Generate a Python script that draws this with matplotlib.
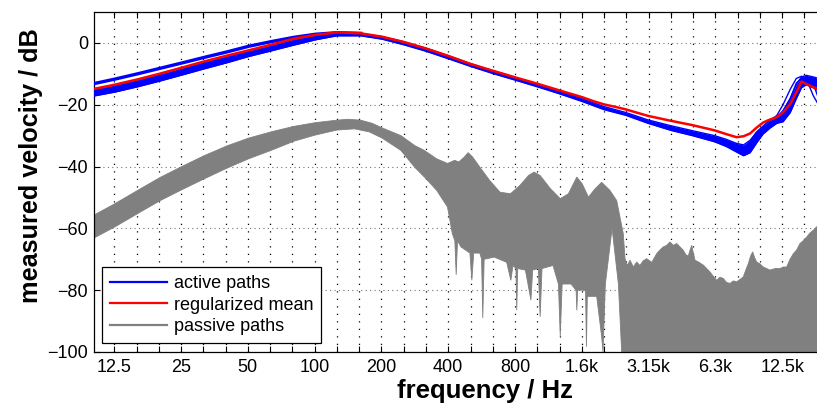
import numpy as np
import matplotlib
matplotlib.use("Agg")
import matplotlib.pyplot as plt
from matplotlib.lines import Line2D
from matplotlib.ticker import FixedLocator, NullFormatter

plt.rcParams['font.family'] = ['Liberation Sans', 'DejaVu Sans']

# ---------------- data ----------------
# regularized mean (red)
red_f = [10, 12.5, 16, 20, 25, 31.5, 40, 50, 63, 80, 100, 125, 160, 200, 250, 315, 400, 500,
         630, 800, 1000, 1250, 1600, 1800, 2000, 2250, 2500, 3150, 4000, 5000, 6300, 7100,
         7900, 8500, 9100, 9700, 10400, 11000, 12000, 12800, 13800, 14700, 15500, 16300,
         17500, 18500, 20000]
red_db = [-14.9, -13.5, -11.7, -9.9, -8.0, -6.0, -4.1, -2.4, -0.6, 1.4, 2.6, 3.4, 3.1, 2.0,
          0.3, -1.8, -4.3, -6.8, -9.0, -11.2, -13.2, -15.3, -17.6, -18.9, -19.9, -20.7,
          -21.5, -23.6, -25.2, -26.6, -28.3, -29.5, -30.5, -30.2, -29.3, -27.5, -25.8,
          -25.0, -24.0, -22.5, -19.8, -16.0, -12.5, -13.3, -14.3, -15.0, -15.8]

# active paths (blue): core band
blue_f = [10, 12.5, 16, 20, 25, 31.5, 40, 50, 63, 80, 100, 125, 160, 200, 250, 315, 400, 500,
          630, 800, 1000, 1250, 1600, 2000, 2500, 3150, 4000, 5000, 6300, 7100, 7900, 8500,
          9100, 9700, 10400, 11200, 12000, 12800, 13800, 14700, 15500, 16300, 17500, 18500,
          20000]
blue_hi = [-15.0, -13.6, -11.8, -10.0, -8.1, -6.1, -4.2, -2.5, -0.7, 1.2, 2.5, 3.3, 3.1, 2.0,
           0.4, -1.7, -4.2, -6.7, -9.0, -11.2, -13.3, -15.5, -18.1, -20.6, -22.5, -24.9,
           -26.8, -28.4, -30.0, -31.2, -32.5, -33.0, -31.5, -29.0, -27.0, -25.0, -24.0,
           -22.0, -18.0, -13.5, -11.0, -10.5, -11.0, -11.5, -12.0]
blue_lo = [-17.2, -15.9, -14.1, -12.3, -10.4, -8.4, -6.4, -4.4, -2.6, -0.7, 1.0, 2.3, 2.3,
           1.2, -0.6, -2.7, -5.2, -7.6, -9.9, -12.1, -14.2, -16.4, -19.0, -21.6, -23.4,
           -26.0, -28.3, -30.0, -32.0, -33.5, -35.3, -36.5, -35.5, -32.5, -29.5, -27.5,
           -26.0, -25.5, -22.5, -18.0, -14.5, -13.5, -14.5, -15.5, -16.0]
# separate upper active path at low frequencies
blue_top_f = [10, 12.5, 16, 20, 25, 31.5, 40, 50, 63, 80, 100, 125, 160]
blue_top_db = [-13.2, -11.7, -9.9, -8.2, -6.5, -4.7, -2.9, -1.1, 0.4, 1.8, 2.8, 3.3, 3.1]
# individual diverging active paths at high frequencies
blue_x_f = [7900, 8500, 9100, 9700, 10400, 11200, 12000, 12800, 13800, 14700, 15500, 16300,
            17500, 18500, 20000]
blue_x1 = [-33.0, -34.0, -32.0, -29.0, -27.0, -25.0, -23.5, -20.0, -15.0, -11.5, -10.8, -11.5,
           -17.0, -20.0, -22.0]
blue_x2 = [-34.5, -36.0, -33.5, -30.0, -28.0, -26.5, -25.0, -23.0, -19.0, -15.0, -12.5, -12.0,
           -13.0, -18.0, -24.0]
blue_x3 = [-34.0, -35.0, -33.0, -29.5, -27.5, -26.0, -24.5, -22.0, -18.0, -13.0, -11.5, -11.0,
           -12.0, -13.0, -14.0]

# passive paths (gray): upper envelope
gray_hi_f = [10, 12.5, 16, 20, 25, 31.5, 40, 50, 63, 80, 100, 125, 140, 160, 180, 200, 243,
             280, 310, 352, 394, 424, 443, 468, 488, 512, 551, 610, 679, 757, 835, 913, 967,
             1030, 1147, 1269, 1381, 1507, 1594, 1700, 1821, 1950, 2124, 2279, 2440,
             2485, 2550, 2617, 2710, 2805, 2900, 3000, 3112, 3280, 3451, 3570, 3696, 3830,
             3963, 4100, 4248, 4400, 4549, 4670, 4790, 4880, 4963, 5050, 5138, 5360, 5599,
             5800, 6000, 6210, 6431, 6650, 6888, 7130, 7387, 7650, 7917, 8200, 8480, 8700,
             8933, 9140, 9345, 9540, 9740, 10080, 10430, 10800, 11180, 11800, 12410, 12850,
             13300, 13770, 14250, 14750, 15270, 15800, 16370, 16950, 17540, 18150, 20000]
gray_hi_db = [-55.8, -52.0, -47.5, -43.5, -40.0, -36.5, -33.3, -30.8, -28.8, -27.0, -25.8,
              -25.0, -24.7, -25.0, -26.0, -27.5, -30.0, -33.2, -34.8, -37.5, -39.0, -38.0,
              -38.5, -37.0, -35.5, -37.0, -40.2, -44.5, -48.3, -48.8, -46.1, -42.9, -41.8,
              -42.9, -47.2, -50.4, -48.8, -43.4, -45.6, -49.9, -47.2, -45.1, -47.7, -51.0,
              -61.7,
              -69.8, -72.0, -70.3, -72.5, -70.9, -72.0, -70.5, -69.8, -71.0, -68.2, -67.0,
              -66.0, -65.5, -64.4, -65.5, -64.9, -66.0, -67.1, -68.5, -69.0, -67.0, -65.5,
              -68.0, -70.3, -71.0, -71.9, -73.0, -74.1, -75.5, -76.8, -75.8, -76.2, -77.5,
              -77.8, -77.0, -77.3, -76.5, -75.7, -73.5, -71.4, -69.0, -67.6, -69.5, -70.9,
              -71.5, -72.5, -73.0, -73.5, -73.0, -73.0, -72.5, -72.5, -70.0, -68.2, -67.0,
              -64.9, -64.0, -62.8, -61.5, -60.6, -59.5, -58.0]
# passive paths (gray): lower envelope
gray_lo_f = [10, 12.5, 16, 20, 25, 31.5, 40, 50, 63, 80, 100, 125, 150, 175, 200, 243, 280,
             310, 352, 394, 414, 425, 431, 437, 453, 497, 507, 517, 551, 561, 568, 576, 640,
             728, 760, 777, 801, 808, 816, 884, 936, 953, 1010, 1030, 1050, 1177, 1245,
             1269, 1294, 1418, 1496, 1507, 1520, 1650, 1665, 1680, 1852, 1950, 1978, 2026,
             2173, 2320, 2400, 2485, 20000]
gray_lo_db = [-63.2, -59.5, -55.0, -51.0, -47.5, -44.0, -40.5, -37.5, -34.8, -31.8, -29.8,
              -28.2, -27.8, -28.8, -30.8, -34.8, -40.2, -43.4, -47.7, -53.1, -61.7, -64.0,
              -75.0, -64.0, -66.0, -68.0, -76.8, -68.0, -68.0, -70.0, -89.0, -70.0, -69.3,
              -71.0, -76.8, -72.0, -73.0, -86.5, -73.0, -73.5, -83.2, -73.5, -73.0, -88.6,
              -73.0, -72.0, -78.0, -95.0, -78.0, -78.0, -80.0, -86.5, -80.0, -80.0, -98.3,
              -82.0, -82.0, -95.0, -100.0, -78.0, -60.0, -78.0, -100.0, -115.0, -115.0]

# axis ticks: third-octave bands, labels every octave
band_exp = list(range(-20, 14))
label_exp = [-19, -16, -13, -10, -7, -4, -1, 2, 5, 8, 11]
tick_labels = ['12.5', '25', '50', '100', '200', '400', '800', '1.6k', '3.15k', '6.3k', '12.5k']
y_ticks = [-100, -80, -60, -40, -20, 0]

# ---------------- figure ----------------
fig = plt.figure(figsize=(8.17, 4.07), dpi=100)
ax = fig.add_axes([93.5 / 817, 55 / 407, (826 - 93.5) / 817, 340 / 407])

BLUE = (0, 0, 1)
RED = (1, 0, 0)
GRAY = (0.5, 0.5, 0.5)

# passive paths
px = list(gray_hi_f) + list(gray_lo_f)[::-1]
py = list(gray_hi_db) + list(gray_lo_db)[::-1]
ax.fill(px, py, facecolor=GRAY, edgecolor=GRAY, lw=0.6, zorder=2)

# active paths
ax.fill_between(blue_f, blue_lo, blue_hi, color=BLUE, lw=0, zorder=3)
ax.plot(blue_f, blue_hi, color=BLUE, lw=1.0, zorder=3)
ax.plot(blue_f, blue_lo, color=BLUE, lw=1.0, zorder=3)
ax.plot(blue_top_f, blue_top_db, color=BLUE, lw=2.4, zorder=3)
for c in (blue_x1, blue_x2, blue_x3):
    ax.plot(blue_x_f, c, color=BLUE, lw=1.0, zorder=3)

# regularized mean
ax.plot(red_f, red_db, color=RED, lw=1.8, zorder=4)

ax.set_xscale('log')
ax.set_xlim(10, 20000)
ax.set_ylim(-100, 10)

bands = [1000 * 2 ** (n / 3) for n in band_exp]
majors = [1000 * 2 ** (n / 3) for n in label_exp]
minors = [b for n, b in zip(band_exp, bands) if n not in label_exp]
ax.xaxis.set_major_locator(FixedLocator(majors))
ax.set_xticklabels(tick_labels)
ax.xaxis.set_minor_locator(FixedLocator(minors))
ax.xaxis.set_minor_formatter(NullFormatter())
ax.set_yticks(y_ticks)

ax.tick_params(axis='both', which='both', direction='in', top=True, right=True,
               labelsize=13, length=4.5, width=0.8, color='black')
ax.tick_params(axis='x', which='major', pad=5)
ax.tick_params(axis='y', which='major', pad=4)

ax.grid(True, axis='x', which='both', color='black', linestyle=(0, (1, 5)), lw=0.9)
ax.grid(True, axis='y', which='major', color='0.45', linestyle=(0, (1, 3)), lw=0.8)
ax.set_axisbelow(True)

for s in ax.spines.values():
    s.set_linewidth(0.9)

ax.set_xlabel('frequency / Hz', fontsize=18.5, fontweight='bold')
ax.set_ylabel('measured velocity / dB', fontsize=18.2, fontweight='bold')
ax.xaxis.set_label_coords(0.534, -0.078, transform=ax.transAxes)
ax.yaxis.set_label_coords(-0.069, 0.547, transform=ax.transAxes)

handles = [Line2D([], [], color=BLUE, lw=1.6),
           Line2D([], [], color=RED, lw=1.6),
           Line2D([], [], color=GRAY, lw=1.6)]
leg = ax.legend(handles, ['active paths', 'regularized mean', 'passive paths'],
                loc='lower left', bbox_to_anchor=(0.012, 0.026), borderaxespad=0,
                fontsize=13, fancybox=False, framealpha=1, edgecolor='black',
                handlelength=3.15, handletextpad=0.35, labelspacing=0.25,
                borderpad=0.45)
leg.get_frame().set_linewidth(0.9)
leg.set_zorder(10)

fig.savefig('out.png', dpi=100)
